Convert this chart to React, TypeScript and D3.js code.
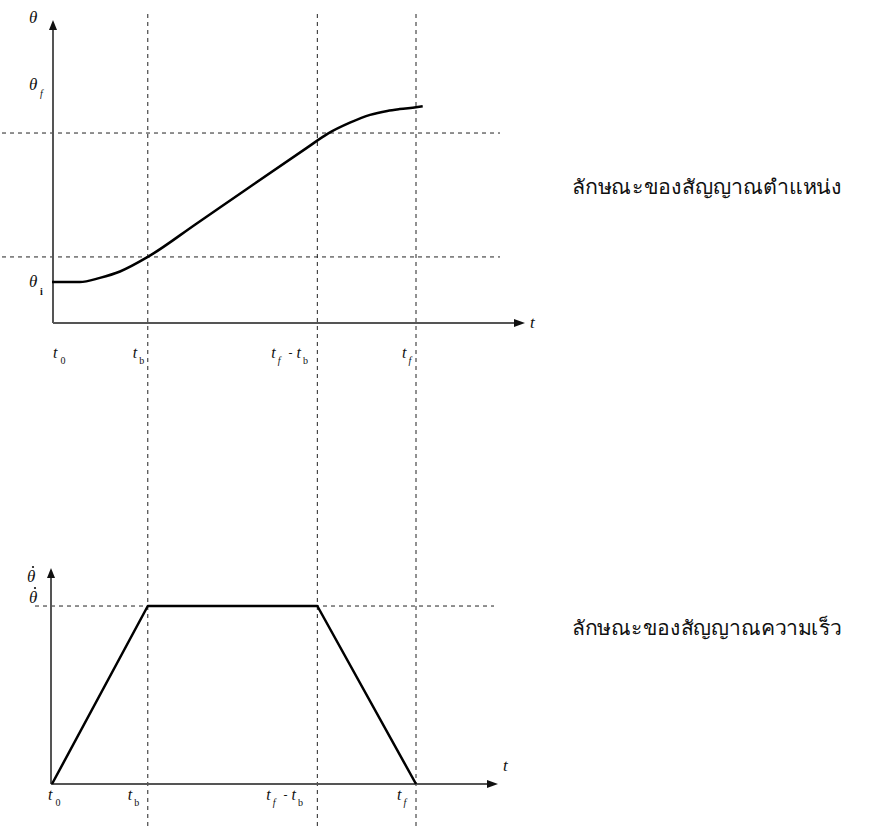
import React from "react";
import * as d3 from "d3";

// Time markers along the shared t axis (units of the blend time t_b)
const tickNames = ["t0", "tb", "tf-tb", "tf"];
const tickTimes = [0, 1, 2.77, 3.8];

// Position trajectory θ(t): parabolic blends joined by a linear segment
const posT = [0, 0.29, 0.5, 0.71, 1.0, 1.5, 2.0, 2.66, 2.88, 3.11, 3.32, 3.5, 3.63, 3.8, 3.87];
const posTheta = [0.135, 0.135, 0.149, 0.170, 0.218, 0.326, 0.435, 0.578, 0.625, 0.661, 0.687, 0.700, 0.706, 0.712, 0.715];

// Velocity trajectory θ̇(t): trapezoidal profile
const velT = [0, 1, 2.77, 3.8];
const velTheta = [0, 0.824, 0.824, 0];

// Reference levels
const posLevels = [0.218, 0.627];
const thetaI = 0.135;
const velMax = 0.824;

const captions = ["ลักษณะของสัญญาณตำแหน่ง", "ลักษณะของสัญญาณความเร็ว"];

const W = 871;
const H = 830;

const x = d3.scaleLinear().domain([0, 3.8]).range([52, 416]);
const yPos = d3.scaleLinear().domain([0, 1]).range([323, 20]);
const yVel = d3.scaleLinear().domain([0, 1]).range([784, 568]);

const lineFont = "'Liberation Serif', 'DejaVu Serif', serif";

function TLabel({ name, x0, y0 }: { name: string; x0: number; y0: number }) {
  const sub = { fontSize: 10 };
  const common = { fontFamily: lineFont, fontStyle: "italic" as const, fontSize: 16, fill: "#111" };
  if (name === "t0")
    return (
      <text x={x0 + 1} y={y0} {...common}>
        t<tspan dx={3} dy={6} {...sub} fontStyle="normal">0</tspan>
      </text>
    );
  if (name === "tb")
    return (
      <text x={x0 - 15} y={y0} {...common}>
        t<tspan dx={2} dy={6} {...sub} fontStyle="normal">b</tspan>
      </text>
    );
  if (name === "tf")
    return (
      <text x={x0 - 14} y={y0} {...common}>
        t<tspan dx={2} dy={6} {...sub}>f</tspan>
      </text>
    );
  return (
    <text x={x0 - 46} y={y0} {...common}>
      t<tspan dx={2} dy={6} {...sub}>f</tspan>
      <tspan dx={8} dy={-7} fontStyle="normal" fontSize={12}>-</tspan>
      <tspan dx={4} dy={1}>t</tspan>
      <tspan dx={2} dy={6} {...sub} fontStyle="normal">b</tspan>
    </text>
  );
}

// θ with an overdot drawn as a small filled circle
function ThetaDot({ x0, y0 }: { x0: number; y0: number }) {
  return (
    <g>
      <text x={x0} y={y0} fontFamily={lineFont} fontStyle="italic" fontSize={17} fill="#111">
        θ
      </text>
      <circle cx={x0 + 6} cy={y0 - 15} r={1.1} fill="#111" />
    </g>
  );
}

export default function App() {
  const posLine = d3
    .line<number>()
    .x((_, i) => x(posT[i]))
    .y((d) => yPos(d))
    .curve(d3.curveMonotoneX)(posTheta) as string;

  const velLine = d3
    .line<number>()
    .x((_, i) => x(velT[i]))
    .y((d) => yVel(d))(velTheta) as string;

  const axisColor = "#555";
  const dash = "4,4";

  const topAxisY = yPos(0);
  const botAxisY = yVel(0);
  const topAxisX = x(0) + 1;
  const botAxisX = x(0) - 1;

  return (
    <svg
      width={W}
      height={H}
      style={{ position: "absolute", left: 0, top: 0, background: "#fff" }}
    >
      <rect width={W} height={H} fill="#fff" />

      {/* vertical time markers spanning both plots */}
      {tickTimes.slice(1).map((t, i) => (
        <line
          key={"v" + i}
          x1={x(t)}
          x2={x(t)}
          y1={14}
          y2={H}
          stroke="#222"
          strokeWidth={1}
          strokeDasharray={dash}
        />
      ))}

      {/* position reference levels */}
      {posLevels.map((v, i) => (
        <line
          key={"h" + i}
          x1={2}
          x2={500}
          y1={yPos(v)}
          y2={yPos(v)}
          stroke="#222"
          strokeWidth={1}
          strokeDasharray={dash}
        />
      ))}

      {/* velocity reference level */}
      <line
        x1={35}
        x2={494}
        y1={yVel(velMax)}
        y2={yVel(velMax)}
        stroke="#222"
        strokeWidth={1}
        strokeDasharray={dash}
      />

      {/* top axes */}
      <line x1={topAxisX} x2={topAxisX} y1={topAxisY} y2={yPos(1) + 8} stroke={axisColor} strokeWidth={2} />
      <path d={`M${topAxisX - 4},${yPos(1) + 10} L${topAxisX},${yPos(1)} L${topAxisX + 4},${yPos(1) + 10} Z`} fill="#111" />
      <line x1={topAxisX} x2={516} y1={topAxisY} y2={topAxisY} stroke={axisColor} strokeWidth={2} />
      <path d={`M514,${topAxisY - 4} L525,${topAxisY} L514,${topAxisY + 4} Z`} fill="#111" />

      {/* bottom axes */}
      <line x1={botAxisX} x2={botAxisX} y1={botAxisY} y2={yVel(1) + 8} stroke={axisColor} strokeWidth={2} />
      <path d={`M${botAxisX - 4},${yVel(1) + 10} L${botAxisX},${yVel(1)} L${botAxisX + 4},${yVel(1) + 10} Z`} fill="#111" />
      <line x1={botAxisX} x2={489} y1={botAxisY} y2={botAxisY} stroke={axisColor} strokeWidth={2} />
      <path d={`M487,${botAxisY - 4} L498,${botAxisY} L487,${botAxisY + 4} Z`} fill="#111" />

      {/* trajectories */}
      <path d={posLine} fill="none" stroke="#000" strokeWidth={2.5} />
      <path d={velLine} fill="none" stroke="#000" strokeWidth={2.5} strokeLinejoin="round" />

      {/* axis titles */}
      <g fontFamily={lineFont} fontStyle="italic" fontSize={17} fill="#111">
        <text x={29} y={23}>θ</text>
        <text x={29} y={90}>θ</text>
        <text x={40} y={97} fontSize={10}>f</text>
        <text x={29} y={yPos(thetaI) + 5}>θ</text>
        <text x={40} y={yPos(thetaI) + 13} fontSize={10} fontStyle="normal" fontWeight="bold">i</text>
        <text x={530} y={328}>t</text>
        <text x={503} y={771}>t</text>
      </g>
      <ThetaDot x0={27} y0={582} />
      <ThetaDot x0={29} y0={603} />

      {/* time tick labels */}
      {tickNames.map((n, i) => (
        <TLabel key={"a" + n} name={n} x0={x(tickTimes[i])} y0={358} />
      ))}
      {tickNames.map((n, i) => (
        <TLabel key={"b" + n} name={n} x0={x(tickTimes[i]) - 5} y0={800} />
      ))}

      {/* captions */}
      <text x={572} y={194} fontFamily="'Noto Sans', 'DejaVu Sans', serif" fontSize={20} fill="#111" textLength={270} lengthAdjust="spacingAndGlyphs">
        {captions[0]}
      </text>
      <text x={572} y={635} fontFamily="'Noto Sans', 'DejaVu Sans', serif" fontSize={20} fill="#111" textLength={270} lengthAdjust="spacingAndGlyphs">
        {captions[1]}
      </text>
    </svg>
  );
}
